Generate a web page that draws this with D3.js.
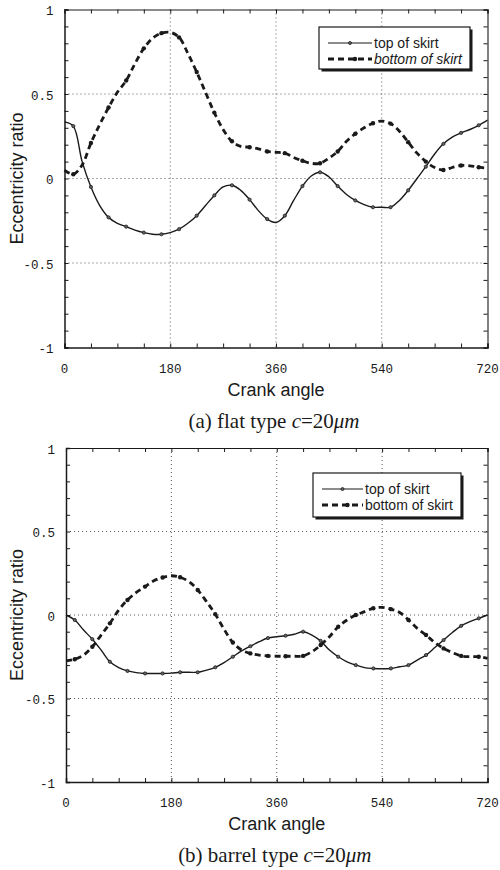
<!DOCTYPE html>
<html>
<head>
<meta charset="utf-8">
<script src="https://cdn.jsdelivr.net/npm/d3@7/dist/d3.min.js"></script>
<style>
  body { margin: 0; background: #fff; }
  svg { display: block; }
</style>
</head>
<body>
<svg id="chart" width="500" height="870"></svg>
<script>
// Crank angle samples (deg)
const crankAngles = [0, 15, 30, 45, 60, 75, 90, 105, 120, 135, 150, 165, 180, 195, 210, 225, 240, 255, 270, 285,
  300, 315, 330, 345, 360, 375, 390, 405, 420, 435, 450, 465, 480, 495, 510, 525, 540, 555, 570, 585,
  600, 615, 630, 645, 660, 675, 690, 705, 720];

// (a) flat type, c = 20 um
const flatTopSkirt = [0.335, 0.31, 0.10, -0.05, -0.16, -0.23, -0.265, -0.285, -0.305, -0.32, -0.33, -0.33, -0.32, -0.30, -0.265, -0.22, -0.16, -0.10, -0.05, -0.04,
  -0.07, -0.125, -0.19, -0.24, -0.26, -0.22, -0.13, -0.045, 0.015, 0.037, 0.01, -0.045, -0.095, -0.13, -0.155, -0.17, -0.17, -0.17, -0.13, -0.07,
  0.0, 0.07, 0.145, 0.205, 0.245, 0.27, 0.29, 0.315, 0.345];
const flatBottomSkirt = [0.05, 0.025, 0.08, 0.21, 0.32, 0.42, 0.51, 0.58, 0.68, 0.77, 0.83, 0.86, 0.865, 0.835, 0.74, 0.63, 0.51, 0.39, 0.29, 0.22,
  0.19, 0.185, 0.175, 0.16, 0.155, 0.15, 0.125, 0.105, 0.09, 0.09, 0.12, 0.16, 0.22, 0.265, 0.30, 0.327, 0.34, 0.325, 0.28, 0.215,
  0.15, 0.10, 0.065, 0.05, 0.065, 0.077, 0.075, 0.067, 0.06];

// (b) barrel type, c = 20 um
const barrelTopSkirt = [0.0, -0.03, -0.09, -0.145, -0.21, -0.28, -0.315, -0.335, -0.345, -0.35, -0.35, -0.35, -0.348, -0.343, -0.343, -0.343, -0.33, -0.313, -0.285, -0.25,
  -0.215, -0.187, -0.16, -0.138, -0.13, -0.124, -0.115, -0.10, -0.12, -0.155, -0.21, -0.25, -0.28, -0.30, -0.315, -0.32, -0.322, -0.32, -0.31, -0.30,
  -0.27, -0.24, -0.195, -0.15, -0.105, -0.065, -0.04, -0.02, 0.0];
const barrelBottomSkirt = [-0.275, -0.265, -0.24, -0.19, -0.12, -0.05, 0.03, 0.09, 0.135, 0.17, 0.205, 0.225, 0.235, 0.226, 0.20, 0.15, 0.08, 0.005, -0.085, -0.165,
  -0.21, -0.23, -0.24, -0.245, -0.247, -0.247, -0.247, -0.245, -0.22, -0.18, -0.13, -0.07, -0.03, 0.0, 0.02, 0.04, 0.046, 0.035, 0.015, -0.03,
  -0.08, -0.12, -0.165, -0.20, -0.225, -0.245, -0.25, -0.25, -0.26];

const seriesNames = ["top of skirt", "bottom of skirt"];
const xTickValues = [0, 180, 360, 540, 720];
const yTickValues = [-1, -0.5, 0, 0.5, 1];
const yTickLabels = ["-1", "-0.5", "0", "0.5", "1"];

const panels = [
  { tag: "(a) flat type ", topSeries: flatTopSkirt, bottomSeries: flatBottomSkirt,
    left: 64.5, right: 487.5, top: 9.5, bottom: 347.5,
    legend: { x: 319, y: 27, w: 151, h: 42, lx0: 328, lx1: 372 }, italicBottom: true },
  { tag: "(b) barrel type ", topSeries: barrelTopSkirt, bottomSeries: barrelBottomSkirt,
    left: 66, right: 487.5, top: 448, bottom: 782,
    legend: { x: 313, y: 473, w: 148, h: 44, lx0: 322, lx1: 363 }, italicBottom: false }
];

const svg = d3.select("#chart");
const ink = "#1a1a1a";
const monoFont = "'Liberation Mono', 'DejaVu Sans Mono', monospace";
const sansFont = "'Liberation Sans', Arial, sans-serif";
const serifFont = "'Liberation Serif', 'Times New Roman', serif";

panels.forEach(p => {
  const g = svg.append("g");
  const x = d3.scaleLinear().domain([0, 720]).range([p.left, p.right]);
  const y = d3.scaleLinear().domain([-1, 1]).range([p.bottom, p.top]);

  // dotted grid at the major ticks
  g.append("g").selectAll("line").data([180, 360, 540]).join("line")
    .attr("x1", d => x(d)).attr("x2", d => x(d)).attr("y1", p.top).attr("y2", p.bottom)
    .attr("stroke", "#444").attr("stroke-width", 0.9).attr("stroke-dasharray", "1,3");
  g.append("g").selectAll("line").data([-0.5, 0, 0.5]).join("line")
    .attr("x1", p.left).attr("x2", p.right).attr("y1", d => y(d)).attr("y2", d => y(d))
    .attr("stroke", "#444").attr("stroke-width", 0.9).attr("stroke-dasharray", "1,3");

  // inward ticks on all four sides
  const xMinor = d3.range(0, 721, 45);
  const yMinor = d3.range(-10, 11).map(v => v / 10);
  const tickLen = 4;
  const axB = d3.axisBottom(x).tickValues(xMinor).tickSize(-tickLen).tickFormat("");
  const axT = d3.axisTop(x).tickValues(xMinor).tickSize(-tickLen).tickFormat("");
  const axL = d3.axisLeft(y).tickValues(yMinor).tickSize(-tickLen).tickFormat("");
  const axR = d3.axisRight(y).tickValues(yMinor).tickSize(-tickLen).tickFormat("");
  [[axB, `translate(0,${p.bottom})`, 1.5], [axT, `translate(0,${p.top})`, 1.1],
   [axL, `translate(${p.left},0)`, 1.5], [axR, `translate(${p.right},0)`, 1.1]].forEach(([ax, tr, sw]) => {
    const a = g.append("g").attr("transform", tr).call(ax);
    a.select(".domain").attr("stroke", ink).attr("stroke-width", sw);
    a.selectAll(".tick line").attr("stroke", ink).attr("stroke-width", 1);
  });

  // tick labels
  g.append("g").selectAll("text").data(xTickValues).join("text")
    .attr("x", d => x(d)).attr("y", p.bottom + 25)
    .attr("text-anchor", "middle").attr("font-family", monoFont).attr("font-size", 12.5)
    .attr("fill", ink).text(d => d);
  g.append("g").selectAll("text").data(yTickValues).join("text")
    .attr("x", p.left - 11).attr("y", d => y(d) + 5.5)
    .attr("text-anchor", "end").attr("font-family", monoFont).attr("font-size", 12.5)
    .attr("fill", ink).text((d, i) => yTickLabels[i]);

  // axis titles
  g.append("text")
    .attr("transform", `translate(23,${(p.top + p.bottom) / 2}) rotate(-90)`)
    .attr("text-anchor", "middle").attr("font-family", sansFont).attr("font-size", 18)
    .attr("fill", ink).text("Eccentricity ratio");
  g.append("text")
    .attr("x", (p.left + p.right) / 2).attr("y", p.bottom + 48)
    .attr("text-anchor", "middle").attr("font-family", sansFont).attr("font-size", 18)
    .attr("fill", ink).text("Crank angle");

  // caption
  const cap = g.append("text")
    .attr("x", (p.left + p.right) / 2 - 2).attr("y", p.bottom + 80)
    .attr("text-anchor", "middle").attr("font-family", serifFont).attr("font-size", 21)
    .attr("fill", ink);
  cap.append("tspan").text(p.tag);
  cap.append("tspan").attr("font-style", "italic").text("c");
  cap.append("tspan").text("=20");
  cap.append("tspan").attr("font-style", "italic").text("\u03bcm");

  // curves
  const line = d3.line().x((d, i) => x(crankAngles[i])).y(d => y(d)).curve(d3.curveCatmullRom.alpha(0.5));
  const markerIdx = d3.range(1, crankAngles.length - 1, 2);

  g.append("path").datum(p.bottomSeries).attr("d", line)
    .attr("fill", "none").attr("stroke", ink).attr("stroke-width", 2.8)
    .attr("stroke-dasharray", "6,4");
  g.append("g").selectAll("circle").data(markerIdx).join("circle")
    .attr("cx", i => x(crankAngles[i])).attr("cy", i => y(p.bottomSeries[i])).attr("r", 2.2)
    .attr("fill", ink);

  g.append("path").datum(p.topSeries).attr("d", line)
    .attr("fill", "none").attr("stroke", ink).attr("stroke-width", 1.4);
  g.append("g").selectAll("circle").data(markerIdx).join("circle")
    .attr("cx", i => x(crankAngles[i])).attr("cy", i => y(p.topSeries[i])).attr("r", 1.6)
    .attr("fill", "#666").attr("stroke", ink).attr("stroke-width", 0.8);

  // legend box with drop shadow
  const L = p.legend;
  const lg = g.append("g");
  lg.append("rect").attr("x", L.x + 2.5).attr("y", L.y + 2.5).attr("width", L.w).attr("height", L.h).attr("fill", ink);
  lg.append("rect").attr("x", L.x).attr("y", L.y).attr("width", L.w).attr("height", L.h)
    .attr("fill", "#fff").attr("stroke", ink).attr("stroke-width", 1.2);
  const r1 = L.y + 16, r2 = L.y + 32;
  const mid = (L.lx0 + L.lx1) / 2;
  lg.append("line").attr("x1", L.lx0).attr("x2", L.lx1).attr("y1", r1).attr("y2", r1)
    .attr("stroke", ink).attr("stroke-width", 1.2);
  lg.append("circle").attr("cx", mid).attr("cy", r1).attr("r", 1.5)
    .attr("fill", "#666").attr("stroke", ink).attr("stroke-width", 0.8);
  lg.append("line").attr("x1", L.lx0).attr("x2", L.lx1).attr("y1", r2).attr("y2", r2)
    .attr("stroke", ink).attr("stroke-width", 2.8).attr("stroke-dasharray", "6,4");
  lg.append("circle").attr("cx", mid + 5).attr("cy", r2).attr("r", 2.2).attr("fill", ink);
  lg.append("text").attr("x", L.lx1 + 2).attr("y", r1 + 5)
    .attr("font-family", sansFont).attr("font-size", 14).attr("fill", ink).text(seriesNames[0]);
  lg.append("text").attr("x", L.lx1 + 2).attr("y", r2 + 5)
    .attr("font-family", sansFont).attr("font-size", 14).attr("fill", ink)
    .attr("font-style", p.italicBottom ? "italic" : "normal").text(seriesNames[1]);
});
</script>
</body>
</html>
